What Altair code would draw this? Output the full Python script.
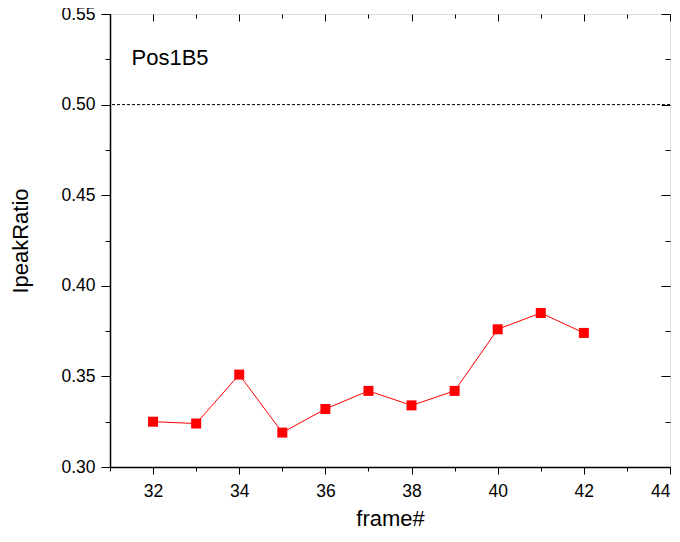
import altair as alt
import pandas as pd

frames = [32, 33, 34, 35, 36, 37, 38, 39, 40, 41, 42]
ratios = [0.325, 0.324, 0.351, 0.319, 0.332, 0.342, 0.334, 0.342, 0.376, 0.385, 0.374]
ref_level = [0.5]
label_text = ["Pos1B5"]
label_x = [31.5]
label_y = [0.5257]

x_major = [32, 34, 36, 38, 40, 42, 44]
x_minor = [31, 33, 35, 37, 39, 41, 43]
y_major = [0.30, 0.35, 0.40, 0.45, 0.50, 0.55]
y_minor = [0.325, 0.375, 0.425, 0.475, 0.525]

df = pd.DataFrame({"frame": frames, "ratio": ratios})
ref = pd.DataFrame({"level": ref_level})
lab = pd.DataFrame({"t": label_text, "x": label_x, "y": label_y})

FONT = "Liberation Sans"
xs = alt.Scale(domain=[31, 44], nice=False, zero=False)
ys = alt.Scale(domain=[0.30, 0.55], nice=False, zero=False)

XMAJ, XMIN = 7, 4
YMAJ, YMIN = 9, 5


def ax(orient, values, size, labels=False, title=None, offset=0, domain=False,
       fmt=None, lpad=3, tpad=4):
    kw = dict(
        orient=orient, values=values, tickSize=size, tickColor="black", tickWidth=1,
        labels=labels, grid=False, domain=domain, domainColor="black", domainWidth=1.5,
        offset=offset, title=title,
    )
    if labels:
        kw.update(labelFont=FONT, labelFontSize=17.5, labelColor="black", labelPadding=lpad)
        if fmt:
            kw["format"] = fmt
    if title:
        kw.update(titleFont=FONT, titleFontSize=22, titleFontWeight="normal",
                  titleColor="black", titlePadding=tpad)
    return alt.Axis(**kw)


main = alt.Chart(df).mark_line(
    color="#ff0000", strokeWidth=1,
    point=alt.OverlayMarkDef(shape="square", size=100, filled=True, color="#ff0000", opacity=1),
).encode(
    x=alt.X("frame:Q", scale=xs, axis=ax("bottom", x_major, XMAJ, True, "frame#",
                                          domain=True, fmt="d", lpad=8, tpad=9)),
    y=alt.Y("ratio:Q", scale=ys, axis=ax("left", y_major, YMAJ, True, "IpeakRatio",
                                          domain=True, fmt=".2f", lpad=6, tpad=28)),
)

minor_out = alt.Chart(df).mark_point(opacity=0).encode(
    x=alt.X("frame:Q", scale=xs, axis=ax("bottom", x_minor, XMIN)),
    y=alt.Y("ratio:Q", scale=ys, axis=ax("left", y_minor, YMIN)),
)

major_in = alt.Chart(df).mark_point(opacity=0).encode(
    x=alt.X("frame:Q", scale=xs, axis=ax("top", x_major, XMAJ, offset=-XMAJ)),
    y=alt.Y("ratio:Q", scale=ys, axis=ax("right", y_major, YMAJ, offset=-YMAJ)),
)

minor_in = alt.Chart(df).mark_point(opacity=0).encode(
    x=alt.X("frame:Q", scale=xs, axis=ax("top", x_minor, XMIN, offset=-XMIN)),
    y=alt.Y("ratio:Q", scale=ys, axis=ax("right", y_minor, YMIN, offset=-YMIN)),
)

rule = alt.Chart(ref).mark_rule(color="black", strokeWidth=1, strokeDash=[3, 2]).encode(
    y=alt.Y("level:Q", scale=ys, axis=None)
)

text = alt.Chart(lab).mark_text(
    align="left", baseline="middle", font=FONT, fontSize=22, color="black"
).encode(
    x=alt.X("x:Q", scale=xs, axis=None),
    y=alt.Y("y:Q", scale=ys, axis=None),
    text="t:N",
)

chart = alt.layer(rule, main, minor_out, major_in, minor_in, text).resolve_axis(
    x="independent", y="independent"
).properties(
    width=560, height=453,
    autosize=alt.AutoSizeParams(type="none"),
    padding={"left": 102, "top": 6, "right": 2, "bottom": 67},
).configure_view(stroke="black", strokeWidth=1.5).configure(background="white")

chart.save("out.html", embed_options={"renderer": "svg", "actions": False})
